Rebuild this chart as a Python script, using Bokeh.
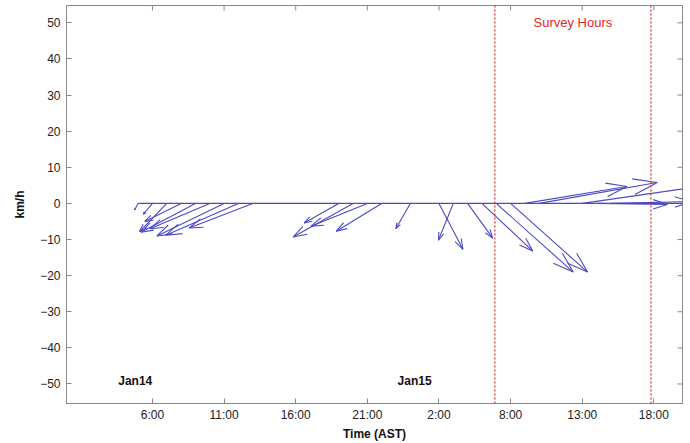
import numpy as np
from bokeh.plotting import figure
from bokeh.models import FixedTicker, Range1d, Span, Label
from bokeh.embed import file_html
from bokeh.resources import INLINE

# ---- data ----
# hours since Jan14 00:00 AST
times = [5, 6, 7, 8, 9, 10, 11, 12, 13,
         19, 20, 21, 22, 24,
         26, 27, 28, 29, 30, 31,
         32, 33, 36, 37, 38]
# east (u) and north (v) components, km/h
u_kmh = [-1.0, -2.5, -7.5, -10.0, -15.0, -16.5, -18.5, -20.0, -17.5,
         -9.5, -16.5, -15.5, -12.5, -4.0,
         6.6, -4.1, 6.9, 14.0, 21.2, 21.2,
         28.1, 32.5, 38.0, 19.5, 22.0]
v_kmh = [-1.8, -3.0, -7.8, -5.0, -8.0, -7.0, -9.0, -8.8, -6.8,
         -5.4, -9.3, -6.3, -7.7, -7.0,
         -12.7, -10.2, -9.6, -13.2, -19.0, -19.0,
         4.7, 5.8, 5.5, -0.3, 0.5]

x_ticks = [6, 11, 16, 21, 26, 31, 36, 41]
x_tick_labels = ["6:00", "11:00", "16:00", "21:00", "2:00", "8:00", "13:00", "18:00"]
y_ticks = [-50, -40, -30, -20, -10, 0, 10, 20, 30, 40, 50]
survey_start, survey_end = 29.9, 40.8
day_labels = ["Jan14", "Jan15"]
day_label_x = [4.8, 24.3]

# ---- figure ----
X0, X1 = 0, 43
Y0, Y1 = -55.4, 54.8
BL, BR, BT, BB = 66, 8, 5, 38
W, H = 690, 443
p = figure(width=W, height=H, x_range=Range1d(X0, X1), y_range=Range1d(Y0, Y1),
           output_backend="svg", toolbar_location=None,
           min_border_left=BL, min_border_right=BR, min_border_top=BT, min_border_bottom=BB)
p.background_fill_color = "white"
p.border_fill_color = "white"
p.outline_line_color = "#8a8a8a"
p.xgrid.grid_line_color = None
p.ygrid.grid_line_color = None

FONT = "Liberation Sans"
axcol = "#8a8a8a"
for ax in (p.xaxis[0], p.yaxis[0]):
    ax.axis_line_color = axcol
    ax.major_tick_line_color = axcol
    ax.minor_tick_line_color = None
    ax.major_tick_in = 5
    ax.major_tick_out = 0
    ax.major_label_text_font = FONT
    ax.major_label_text_font_size = "12px"
    ax.major_label_text_color = "#222222"
    ax.axis_label_text_font = FONT
    ax.axis_label_text_font_size = "12px"
    ax.axis_label_text_font_style = "bold"
    ax.axis_label_text_color = "#111111"

p.xaxis.ticker = FixedTicker(ticks=x_ticks)
p.xaxis.major_label_overrides = {t: l for t, l in zip(x_ticks, x_tick_labels)}
p.xaxis.axis_label = "Time (AST)"
p.xaxis.major_label_standoff = 4
p.xaxis.axis_label_standoff = 2
p.yaxis.ticker = FixedTicker(ticks=y_ticks)
p.yaxis.axis_label = "km/h"
p.yaxis.major_label_standoff = 6
p.yaxis.axis_label_standoff = 10

frame_w = W - BL - BR
frame_h = H - BT - BB
px_x = frame_w / (X1 - X0)     # pixels per hour
px_y = frame_h / (Y1 - Y0)     # pixels per km/h

# inward ticks on top and right edges of the box
tick_len = 5
xt = np.array(x_ticks, float)
yt = np.array(y_ticks, float)
p.segment(x0=xt, y0=np.full_like(xt, Y1), x1=xt, y1=np.full_like(xt, Y1 - tick_len / px_y),
          line_color=axcol, line_width=1)
p.segment(x0=np.full_like(yt, X1), y0=yt, x1=np.full_like(yt, X1 - tick_len / px_x), y1=yt,
          line_color=axcol, line_width=1)

# ---- stick / quiver arrows ----
k = px_y / px_x   # hours per km/h for equal screen scale
t = np.array(times, float)
u = np.array(u_kmh, float)
v = np.array(v_kmh, float)
tip_x = t + k * u
tip_y = v
a, b = 0.2, 0.33
b1x = t + k * (u - a * (u + b * v))
b1y = v - a * (v - b * u)
b2x = t + k * (u - a * (u - b * v))
b2y = v - a * (v + b * u)

blue = "#4a4ac6"
p.line(x=[times[0], X1], y=[0, 0], line_color=blue, line_width=1.1)
p.segment(x0=t, y0=np.zeros_like(t), x1=tip_x, y1=tip_y, line_color=blue, line_width=1.1)
hx = [[b1x[i], tip_x[i], b2x[i]] for i in range(len(t))]
hy = [[b1y[i], tip_y[i], b2y[i]] for i in range(len(t))]
p.multi_line(xs=hx, ys=hy, line_color=blue, line_width=1.1)

# survey window
for xs in (survey_start, survey_end):
    p.add_layout(Span(location=xs, dimension="height", line_color="#d03a3a",
                      line_dash="2 2", line_width=1.3))
p.add_layout(Label(x=(survey_start + survey_end) / 2, y=50, text="Survey Hours",
                   text_align="center", text_baseline="middle", text_font=FONT,
                   text_font_size="13px", text_color="#e02828"))

for lab, lx in zip(day_labels, day_label_x):
    p.add_layout(Label(x=lx, y=-49.3, text=lab, text_align="center", text_baseline="middle",
                       text_font=FONT, text_font_size="12px", text_font_style="bold",
                       text_color="#111111"))

open("out.html", "w").write(file_html(p, INLINE))
